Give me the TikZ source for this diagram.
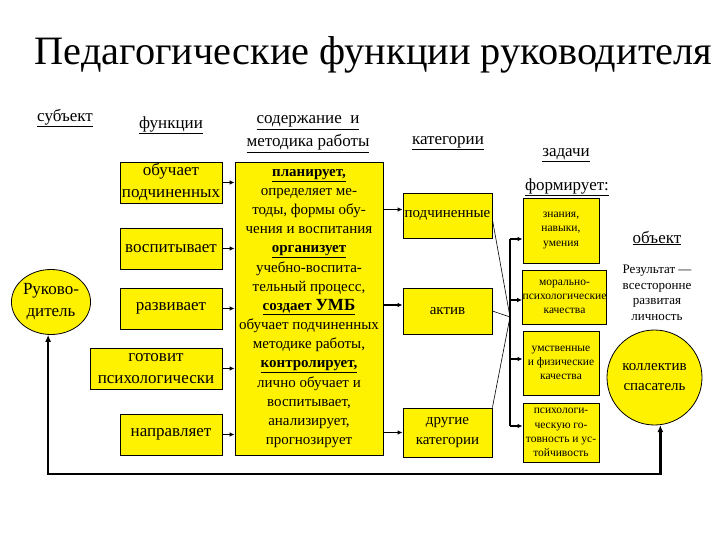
\documentclass[tikz,border=0pt]{standalone}
\usepackage{fontspec}
\setmainfont{Liberation Serif}
\usetikzlibrary{arrows.meta,shapes.geometric}
\begin{document}
\begin{tikzpicture}[x=1pt,y=-1pt,
  ybox/.style={draw=black, line width=0.8pt, fill=yellow, inner sep=0pt, align=center},
  fbox/.style={ybox, minimum width=102pt, minimum height=41pt, font=\fontsize{17}{22}\selectfont},
  cbox/.style={ybox, minimum width=89pt, font=\fontsize{15}{20}\selectfont},
  tbox/.style={ybox, minimum width=76pt, font=\fontsize{11.5}{14.2}\selectfont},
  hdr/.style={inner sep=0pt, align=center, font=\fontsize{17}{23}\selectfont},
  arr/.style={line width=1.3pt, -{Latex[length=5pt,width=4.5pt]}},
  conv/.style={line width=0.6pt},
  bar/.style={line width=1.3pt},
  fb/.style={line width=2.6pt, {Latex[length=7pt,width=6pt]}-{Latex[length=7pt,width=6pt]}},
]
\useasboundingbox (0,0) rectangle (720,540);
\fill[white] (0,0) rectangle (720,540);

% title and headers
\node[inner sep=0pt, font=\fontsize{40.3}{44}\selectfont] (title) at (373.5,55) {Педагогические функции руководителя};
\node[hdr] (hsub) at (65,118) {\underline{субъект}};
\node[hdr] (hfun) at (171,125) {\underline{функции}};
\node[hdr] (hcon) at (308,134) {\underline{содержание \ и}\\\underline{методика работы}};
\node[hdr] (hcat) at (448,143) {\underline{категории}};
\node[hdr] (hzad) at (566,155) {\underline{задачи}};
\node[hdr] (hfor) at (567,187) {\underline{формирует:}};
\node[hdr] (hobj) at (657,238) {\underline{объект}};
\node[inner sep=0pt, align=center, font=\fontsize{13}{15.6}\selectfont] (res) at (657,293) {Результат —\\всесторонне\\развитая\\личность};

% subject
\node[ybox, ellipse, minimum width=77pt, minimum height=65pt, font=\fontsize{17}{22}\selectfont] (ruk) at (51,302) {Руково-\\дитель};

% functions
\node[fbox] (f1) at (171,182.5) {обучает\\подчиненных};
\node[fbox] (f2) at (171,248.5) {воспитывает};
\node[fbox] (f3) at (171,308.5) {развивает};
\node[fbox, minimum width=132pt] (f4) at (156,368.5) {готовит\\психологически};
\node[fbox] (f5) at (171,434.5) {направляет};

% content
\node[ybox, minimum width=148pt, minimum height=293pt, font=\fontsize{15}{19.15}\selectfont] (content) at (309,308.5)
 {\textbf{\underline{планирует,}}\\
  определяет ме-\\
  тоды, формы обу-\\
  чения и воспитания\\
  \textbf{\underline{организует}}\\
  учебно-воспита-\\
  тельный процесс,\\
  \underline{\textbf{создает} \textbf{\fontsize{17}{19.15}\selectfont УМБ}}\\
  обучает подчиненных\\
  методике работы,\\
  \textbf{\underline{контролирует,}}\\
  лично обучает и\\
  воспитывает,\\
  анализирует,\\
  прогнозирует};

% categories
\node[cbox, minimum height=45pt] (c1) at (447.5,215.5) {подчиненные};
\node[cbox, minimum height=46pt] (c2) at (447.5,311) {актив};
\node[cbox, minimum height=49pt] (c3) at (447.5,432.5) {другие\\категории};

% tasks
\node[tbox, minimum height=65pt] (t1) at (561,230.5) {знания,\\навыки,\\умения};
\node[tbox, minimum width=83pt, minimum height=54pt] (t2) at (564.5,297) {морально-\\психологические\\качества};
\node[tbox, minimum height=64pt] (t3) at (561,363) {умственные\\и физические\\качества};
\node[tbox, minimum height=59pt] (t4) at (561,432.5) {психологи-\\ческую го-\\товность и ус-\\тойчивость};

% object
\node[ybox, circle, minimum size=95pt, font=\fontsize{15}{20}\selectfont] (kol) at (654.5,377.5) {коллектив\\спасатель};

% arrows functions -> content
\foreach \f in {f1,f2,f3,f4,f5}
  \draw[arr] (\f.east) -- (\f.east -| content.west);

% arrows content -> categories
\path ([yshift=6pt]c1.west) coordinate (c1in)
      ([yshift=6pt]c2.west) coordinate (c2in)
      (c3.west) coordinate (c3in);
\foreach \c in {c1in,c2in,c3in}
  \draw[arr] (content.east |- \c) -- (\c);

% converging lines
\coordinate (hub) at (510,317);
\draw[conv] ([yshift=-4pt]c1.east) -- (hub);
\draw[conv] (c2.east) -- (hub);
\draw[conv] (c3.north east) -- (hub);

% bracket to tasks
\path ([yshift=-8.5pt]t1.west) coordinate (t1in)
      ([yshift=-3pt]t2.west) coordinate (t2in)
      ([yshift=4pt]t3.west) coordinate (t3in)
      ([yshift=6.5pt]t4.west) coordinate (t4in);
\draw[bar] (hub |- t1in) -- (hub |- t4in);
\foreach \t in {t1in,t2in,t3in,t4in}
  \draw[arr] (hub |- \t) -- (\t);

% feedback loop
\coordinate (fbot) at (0,474);
\draw[fb] (ruk.-95) -- (ruk.-95 |- fbot) -- (kol.-83 |- fbot) -- (kol.-83);
\end{tikzpicture}
\end{document}
